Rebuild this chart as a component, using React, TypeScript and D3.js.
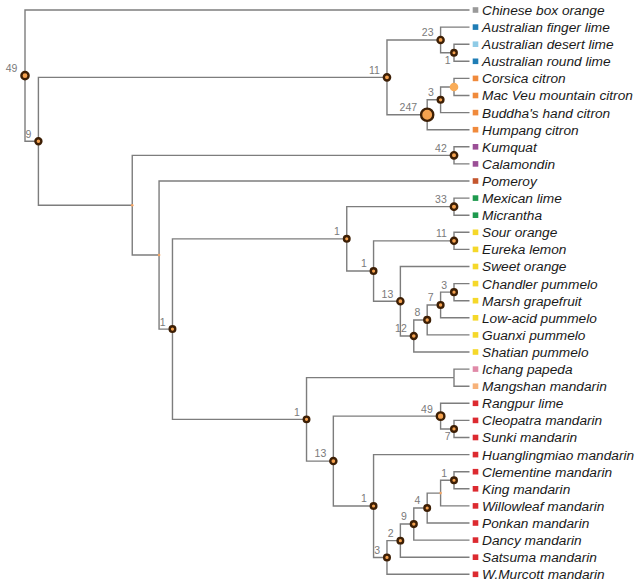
import React from "react";
import * as d3 from "d3";

const leafNames = [
  "Chinese box orange", "Australian finger lime", "Australian desert lime", "Australian round lime",
  "Corsica citron", "Mac Veu mountain citron", "Buddha's hand citron", "Humpang citron",
  "Kumquat", "Calamondin", "Pomeroy", "Mexican lime", "Micrantha", "Sour orange", "Eureka lemon",
  "Sweet orange", "Chandler pummelo", "Marsh grapefruit", "Low-acid pummelo", "Guanxi pummelo",
  "Shatian pummelo", "Ichang papeda", "Mangshan mandarin", "Rangpur lime", "Cleopatra mandarin",
  "Sunki mandarin", "Huanglingmiao mandarin", "Clementine mandarin", "King mandarin",
  "Willowleaf mandarin", "Ponkan mandarin", "Dancy mandarin", "Satsuma mandarin", "W.Murcott mandarin",
];

const leafGroups = [
  "box", "aus", "desert", "aus", "citron", "citron", "citron", "citron",
  "kumquat", "kumquat", "pomeroy", "lime", "lime", "yellow", "yellow",
  "yellow", "yellow", "yellow", "yellow", "yellow",
  "yellow", "ichang", "mangshan", "red", "red",
  "red", "red", "red", "red",
  "red", "red", "red", "red", "red",
];

const groupNames = ["box", "aus", "desert", "citron", "kumquat", "pomeroy", "lime", "yellow", "ichang", "mangshan", "red"];
const groupColors = ["#9a9a9a", "#1f7db5", "#8fcbe6", "#f08a3c", "#9b4f96", "#c4562e", "#1e9a4e", "#f5d82a", "#e08aa8", "#f7b27a", "#dc2a30"];

// internal nodes: id, children, support label, marker weight, marker type
const nodeIds = [
  "root", "n9", "n11t", "n23", "nAus", "n247", "n3c", "nCor", "nB", "n42", "nC", "n1a", "n1b", "n33",
  "n1c", "n11s", "n13", "n12", "n8", "n7", "n3p", "n1h", "nIch", "n13m", "n49", "n7m", "n1m", "n3m",
  "n2m", "n9m", "n4m", "nW", "n1cl",
];
const nodeChildren = [
  ["Chinese box orange", "n9"], ["n11t", "nB"], ["n23", "n247"], ["Australian finger lime", "nAus"],
  ["Australian desert lime", "Australian round lime"], ["n3c", "Humpang citron"], ["nCor", "Buddha's hand citron"],
  ["Corsica citron", "Mac Veu mountain citron"], ["n42", "nC"], ["Kumquat", "Calamondin"], ["Pomeroy", "n1a"],
  ["n1b", "n1h"], ["n33", "n1c"], ["Mexican lime", "Micrantha"], ["n11s", "n13"], ["Sour orange", "Eureka lemon"],
  ["Sweet orange", "n12"], ["n8", "Shatian pummelo"], ["n7", "Guanxi pummelo"], ["n3p", "Low-acid pummelo"],
  ["Chandler pummelo", "Marsh grapefruit"], ["nIch", "n13m"], ["Ichang papeda", "Mangshan mandarin"],
  ["n49", "n1m"], ["Rangpur lime", "n7m"], ["Cleopatra mandarin", "Sunki mandarin"],
  ["Huanglingmiao mandarin", "n3m"], ["n2m", "W.Murcott mandarin"], ["n9m", "Satsuma mandarin"],
  ["n4m", "Dancy mandarin"], ["nW", "Ponkan mandarin"], ["n1cl", "Willowleaf mandarin"],
  ["Clementine mandarin", "King mandarin"],
];
const nodeSupport = [
  49, 9, 11, 23, 1, 247, 3, 0, 0, 42, 0, 1, 1, 33,
  1, 11, 13, 12, 8, 7, 3, 1, 0, 13, 49, 7, 1, 3,
  2, 9, 4, 0, 1,
];
const nodeWeight = [
  29, 8, 12, 10, 3, 247, 5, 0, 0, 14, 0, 4, 4, 14,
  4, 10, 10, 8, 6, 6, 5, 4, 0, 10, 38, 5, 4, 5,
  4, 6, 4, 0, 4,
];
const nodeMarker = [
  "ring", "ring", "ring", "ring", "ringBelow", "ring", "ring", "light", "tiny", "ring", "tiny", "ring", "ring", "ring",
  "ring", "ring", "ring", "ring", "ring", "ring", "ring", "ring", "none", "ring", "ring", "ringBelow", "ring", "ring",
  "ring", "ring", "ring", "tiny", "ring",
];

type TNode = { name: string; children?: TNode[]; idx: number; leafIdx: number };

function buildTree(): TNode {
  const make = (name: string): TNode => {
    const i = nodeIds.indexOf(name);
    if (i < 0) return { name, idx: -1, leafIdx: leafNames.indexOf(name) };
    return { name, idx: i, leafIdx: -1, children: nodeChildren[i].map(make) };
  };
  return make("root");
}

const W = 640;
const H = 584;
const LEAF_END = 469.5;

export default function App() {
  const root = d3.hierarchy<TNode>(buildTree()).count();
  const xScale = d3.scaleLinear().domain([2, leafNames.length]).range([454, 25]);
  const yScale = d3.scaleLinear().domain([0, leafNames.length - 1]).range([10, 574.3]);
  const rScale = d3.scaleSqrt().domain([0, 247]).range([3.5, 7.3]);

  const pos = new Map<d3.HierarchyNode<TNode>, { x: number; y: number }>();
  root.eachAfter((n) => {
    if (!n.children) {
      pos.set(n, { x: LEAF_END, y: yScale(n.data.leafIdx) });
    } else {
      const ys = n.children.map((c) => pos.get(c)!.y);
      pos.set(n, { x: xScale(n.value!), y: (ys[0] + ys[ys.length - 1]) / 2 });
    }
  });

  const links = root.links();
  const internals = root.descendants().filter((n) => n.children);
  const leaves = root.leaves();
  const dark = "#3d1f05";
  const orange = "#f5a24f";

  return (
    <svg width={W} height={H} style={{ position: "absolute", left: 0, top: 0, background: "#fff" }}>
      <g fill="none" stroke="#7d7d7d" strokeWidth={1.4}>
        {links.map((l, i) => {
          const s = pos.get(l.source)!;
          const t = pos.get(l.target)!;
          return <path key={i} d={`M${s.x},${s.y}V${t.y}H${t.x}`} />;
        })}
      </g>
      {internals.map((n, i) => {
        const p = pos.get(n)!;
        const k = n.data.idx;
        const type = nodeMarker[k];
        const sup = nodeSupport[k];
        const outer = rScale(nodeWeight[k]);
        let marker = null;
        if (type === "ring" || type === "ringBelow") {
          marker = (
            <circle cx={p.x} cy={p.y} r={outer - 1.2} fill={orange} stroke={dark} strokeWidth={2.4} />
          );
        } else if (type === "light") {
          marker = <circle cx={p.x} cy={p.y} r={4.3} fill="#f9ac58" />;
        } else if (type === "tiny") {
          marker = <circle cx={p.x} cy={p.y} r={1.3} fill="#f3a565" />;
        }
        let label = null;
        if (sup > 0) {
          const below = type === "ringBelow";
          label = (
            <text
              x={below ? p.x - 3.5 : p.x - outer - 2.8}
              y={below ? p.y + 11.5 : p.y - 3.6}
              textAnchor="end"
              fontFamily="'Liberation Sans', Arial, sans-serif"
              fontSize={10.5}
              fill="#7a7a7a"
            >
              {sup}
            </text>
          );
        }
        return (
          <g key={i}>
            {marker}
            {label}
          </g>
        );
      })}
      {leaves.map((n, i) => {
        const p = pos.get(n)!;
        const gi = groupNames.indexOf(leafGroups[n.data.leafIdx]);
        return (
          <g key={i}>
            <rect x={p.x + 3.2} y={p.y - 2.8} width={5.6} height={5.6} fill={groupColors[gi]} />
            <text
              x={482}
              y={p.y + 4.9}
              fontFamily="'Liberation Sans', Arial, sans-serif"
              fontStyle="italic"
              fontSize={13.7}
              fill="#1a1a1a"
            >
              {n.data.name}
            </text>
          </g>
        );
      })}
    </svg>
  );
}
